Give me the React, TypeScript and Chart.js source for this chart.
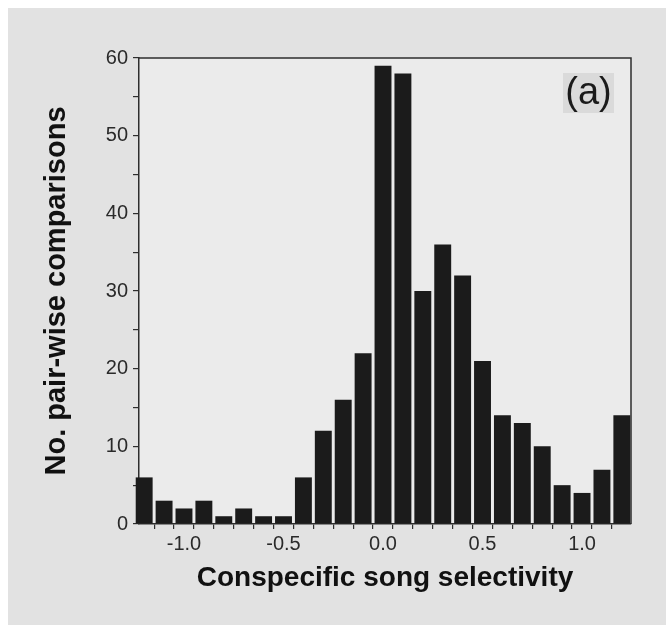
import React, { useEffect, useRef } from "react";
import { Chart, registerables } from "chart.js";

Chart.register(...registerables);

// Bin centres (Conspecific song selectivity)
const bins = [
  -1.2, -1.1, -1.0, -0.9, -0.8, -0.7, -0.6, -0.5, -0.4, -0.3, -0.2, -0.1, 0.0,
  0.1, 0.2, 0.3, 0.4, 0.5, 0.6, 0.7, 0.8, 0.9, 1.0, 1.1, 1.2,
];
// Number of pair-wise comparisons per bin
const counts = [
  6, 3, 2, 3, 1, 2, 1, 1, 6, 12, 16, 22, 59, 58, 30, 36, 32, 21, 14, 13, 10, 5,
  4, 7, 14,
];
const xLabelsShown = ["-1.0", "-0.5", "0.0", "0.5", "1.0"];
const yLabelsShown = [0, 10, 20, 30, 40, 50, 60];
const panelLabel = "(a)";
const xTitle = "Conspecific song selectivity";
const yTitle = "No. pair-wise comparisons";

const FONT = '"Liberation Sans", Arial, Helvetica, sans-serif';
const AXIS = "#2e2e2e";

const framePlugin = {
  id: "frame",
  beforeDraw(chart: any) {
    const { ctx, chartArea: a } = chart;
    ctx.save();
    ctx.fillStyle = "#ebebeb";
    ctx.fillRect(a.left, a.top, a.right - a.left, a.bottom - a.top);
    ctx.restore();
  },
  afterDraw(chart: any) {
    const { ctx, chartArea: a } = chart;
    ctx.save();
    ctx.strokeStyle = AXIS;
    ctx.lineWidth = 1.5;
    ctx.beginPath();
    ctx.moveTo(a.left, a.top);
    ctx.lineTo(a.right, a.top);
    ctx.lineTo(a.right, a.bottom);
    ctx.stroke();
    // panel label
    const bx = a.right - 68;
    const by = a.top + 15;
    ctx.fillStyle = "#dadada";
    ctx.fillRect(bx, by, 51, 40);
    ctx.fillStyle = "#1a1a1a";
    ctx.font = `38px ${FONT}`;
    ctx.textAlign = "center";
    ctx.textBaseline = "middle";
    ctx.fillText(panelLabel, bx + 25.5, by + 21);
    ctx.restore();
  },
};

export default function App() {
  const ref = useRef<HTMLCanvasElement | null>(null);

  useEffect(() => {
    if (!ref.current) return;
    const chart = new Chart(ref.current, {
      type: "bar",
      data: {
        datasets: [
          {
            data: bins.map((x, i) => ({ x, y: counts[i] })),
            backgroundColor: "#1b1b1b",
            borderWidth: 0,
            barPercentage: 0.85,
            categoryPercentage: 1,
            clip: false,
          } as any,
        ],
      },
      options: {
        animation: false,
        responsive: false,
        layout: { padding: { top: 50, right: 35, left: 0, bottom: 0 } },
        plugins: {
          legend: { display: false },
          tooltip: { enabled: false },
        },
        scales: {
          x: {
            type: "linear",
            min: -1.226,
            max: 1.246,
            offset: false,
            afterBuildTicks: (scale: any) => {
              scale.ticks = bins.map((v) => ({ value: v }));
            },
            afterFit: (scale: any) => {
              scale.height = 101;
            },
            ticks: {
              autoSkip: false,
              maxRotation: 0,
              minRotation: 0,
              padding: 3,
              color: "#2a2a2a",
              font: { family: FONT, size: 20 },
              callback: (value: any) => {
                const s = (Math.round(Number(value) * 10) / 10).toFixed(1);
                const t = s === "-0.0" ? "0.0" : s;
                return xLabelsShown.includes(t) ? t : "";
              },
            },
            grid: {
              drawOnChartArea: false,
              drawTicks: true,
              tickLength: 5,
              color: AXIS,
              lineWidth: 1.2,
            },
            border: { display: true, color: AXIS, width: 1.5 },
            title: {
              display: true,
              text: xTitle,
              color: "#111",
              font: { family: FONT, size: 28, weight: "bold" },
              padding: { top: 0, bottom: 30 },
            },
          },
          y: {
            type: "linear",
            min: 0,
            max: 60,
            afterFit: (scale: any) => {
              scale.width = 131;
            },
            ticks: {
              stepSize: 5,
              padding: 5,
              color: "#2a2a2a",
              font: { family: FONT, size: 20 },
              callback: (value: any) =>
                yLabelsShown.includes(Number(value)) ? String(value) : "",
            },
            grid: {
              drawOnChartArea: false,
              drawTicks: true,
              tickLength: 6,
              color: AXIS,
              lineWidth: 1.2,
            },
            border: { display: true, color: AXIS, width: 1.5 },
            title: {
              display: true,
              text: yTitle,
              color: "#111",
              font: { family: FONT, size: 29, weight: "bold" },
              padding: { top: 32, bottom: 0 },
            },
          },
        },
      } as any,
      plugins: [framePlugin],
    });
    return () => chart.destroy();
  }, []);

  return (
    <div
      style={{
        position: "absolute",
        left: 8,
        top: 8,
        right: 0,
        bottom: 0,
        background: "#e2e2e2",
        overflow: "hidden",
      }}
    >
      <canvas ref={ref} width={658} height={617} style={{ display: "block" }} />
    </div>
  );
}
